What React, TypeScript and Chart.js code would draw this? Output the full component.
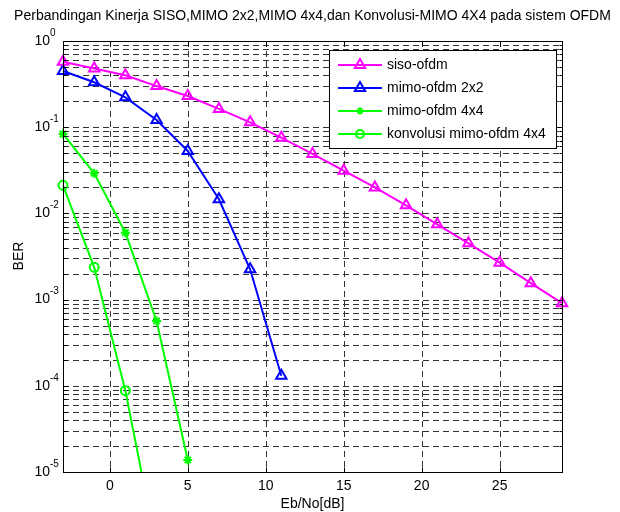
import React, { useEffect, useRef } from 'react';
import { Chart, registerables } from 'chart.js';

Chart.register(...registerables);

const titleText = 'Perbandingan Kinerja SISO,MIMO 2x2,MIMO 4x4,dan Konvolusi-MIMO 4X4 pada sistem OFDM';
const xTitle = 'Eb/No[dB]';
const yTitle = 'BER';

const sisoX = [-3, -1, 1, 3, 5, 7, 9, 11, 13, 15, 17, 19, 21, 23, 25, 27, 29];
const sisoBER = [0.575, 0.48, 0.4, 0.3, 0.23, 0.163, 0.114, 0.0756, 0.0489, 0.0313, 0.02, 0.0124, 0.00746, 0.0045, 0.00268, 0.00155, 0.00091];
const mimo2X = [-3, -1, 1, 3, 5, 7, 9, 11];
const mimo2BER = [0.449, 0.332, 0.222, 0.121, 0.053, 0.0146, 0.00225, 0.000131];
const mimo4X = [-3, -1, 1, 3, 5];
const mimo4BER = [0.0834, 0.0292, 0.00597, 0.000565, 0.0000138];
const konvX = [-3, -1, 1, 3];
const konvBER = [0.0212, 0.00237, 0.0000878, 0.0000013];

const xTicks = [0, 5, 10, 15, 20, 25];
const yDecades = [0, -1, -2, -3, -4, -5];
const legendLabels = ['siso-ofdm', 'mimo-ofdm 2x2', 'mimo-ofdm 4x4', 'konvolusi mimo-ofdm 4x4'];
const seriesColors = ['#ff00ff', '#0000ff', '#00ff00', '#00ff00'];
const seriesMarkers = ['triangle', 'triangle', 'star', 'circle'];

const FONT = '"Liberation Sans", Arial, Helvetica, sans-serif';

function drawMarker(ctx: CanvasRenderingContext2D, style: string, x: number, y: number, r: number) {
  ctx.beginPath();
  if (style === 'triangle') {
    let rad = 0;
    ctx.moveTo(x + Math.sin(rad) * r, y - Math.cos(rad) * r);
    rad += (2 * Math.PI) / 3;
    ctx.lineTo(x + Math.sin(rad) * r, y - Math.cos(rad) * r);
    rad += (2 * Math.PI) / 3;
    ctx.lineTo(x + Math.sin(rad) * r, y - Math.cos(rad) * r);
    ctx.closePath();
  } else if (style === 'circle') {
    ctx.arc(x, y, r, 0, Math.PI * 2);
  } else {
    for (let i = 0; i < 4; i++) {
      const a = (i * Math.PI) / 4;
      ctx.moveTo(x - Math.cos(a) * r, y - Math.sin(a) * r);
      ctx.lineTo(x + Math.cos(a) * r, y + Math.sin(a) * r);
    }
  }
  ctx.stroke();
}

const matlabPlugin = {
  id: 'matlabFrame',
  beforeDatasetsDraw(chart: any) {
    const { ctx, chartArea: a, scales } = chart;
    const xs = scales.x;
    const ys = scales.y;
    ctx.save();
    ctx.strokeStyle = '#333';
    ctx.lineWidth = 1;
    ctx.setLineDash([6, 4]);
    xTicks.forEach((v) => {
      const px = Math.round(xs.getPixelForValue(v)) + 0.5;
      ctx.beginPath();
      ctx.moveTo(px, a.top);
      ctx.lineTo(px, a.bottom);
      ctx.stroke();
    });
    for (let d = -5; d <= 0; d++) {
      for (let m = 1; m <= 9; m++) {
        const v = m * Math.pow(10, d);
        if (v > 1.0001) break;
        const py = Math.round(ys.getPixelForValue(v)) + 0.5;
        ctx.beginPath();
        ctx.moveTo(a.left, py);
        ctx.lineTo(a.right, py);
        ctx.stroke();
      }
    }
    ctx.restore();
  },
  afterDraw(chart: any) {
    const { ctx, chartArea: a, scales } = chart;
    const xs = scales.x;
    const ys = scales.y;
    ctx.save();
    ctx.setLineDash([]);
    ctx.strokeStyle = '#000';
    ctx.lineWidth = 1;
    const L = Math.round(a.left) + 0.5;
    const R = Math.round(a.right) + 0.5;
    const T = Math.round(a.top) + 0.5;
    const B = Math.round(a.bottom) + 0.5;
    ctx.strokeRect(L, T, R - L, B - T);
    xTicks.forEach((v) => {
      const px = Math.round(xs.getPixelForValue(v)) + 0.5;
      ctx.beginPath();
      ctx.moveTo(px, B);
      ctx.lineTo(px, B - 5);
      ctx.moveTo(px, T);
      ctx.lineTo(px, T + 5);
      ctx.stroke();
    });
    for (let d = -5; d <= 0; d++) {
      for (let m = 1; m <= 9; m++) {
        const v = m * Math.pow(10, d);
        if (v > 1.0001) break;
        const py = Math.round(ys.getPixelForValue(v)) + 0.5;
        const len = m === 1 ? 5 : 3;
        ctx.beginPath();
        ctx.moveTo(L, py);
        ctx.lineTo(L + len, py);
        ctx.moveTo(R, py);
        ctx.lineTo(R - len, py);
        ctx.stroke();
      }
    }
    ctx.fillStyle = '#000';
    ctx.font = `14px ${FONT}`;
    ctx.textAlign = 'center';
    ctx.textBaseline = 'middle';
    xTicks.forEach((v) => {
      ctx.fillText(String(v), xs.getPixelForValue(v), 486);
    });
    yDecades.forEach((d) => {
      const py = ys.getPixelForValue(Math.pow(10, d));
      ctx.font = `14px ${FONT}`;
      ctx.textAlign = 'right';
      ctx.textBaseline = 'middle';
      ctx.fillText('10', 50, py);
      ctx.font = `10px ${FONT}`;
      ctx.textAlign = 'left';
      ctx.fillText(String(d), 50, py - 8);
    });
    ctx.font = `14px ${FONT}`;
    ctx.textAlign = 'center';
    ctx.textBaseline = 'middle';
    ctx.fillText(xTitle, (a.left + a.right) / 2, 504);
    ctx.fillText(titleText, (a.left + a.right) / 2, 16);
    ctx.save();
    ctx.translate(19, 256);
    ctx.rotate(-Math.PI / 2);
    ctx.fillText(yTitle, 0, 0);
    ctx.restore();
    // legend
    ctx.fillStyle = '#fff';
    ctx.fillRect(329.5, 50.5, 227, 98);
    ctx.strokeStyle = '#000';
    ctx.lineWidth = 1;
    ctx.strokeRect(329.5, 50.5, 227, 98);
    const rows = [65, 88, 111, 134];
    legendLabels.forEach((lab, i) => {
      const ry = rows[i];
      ctx.strokeStyle = seriesColors[i];
      ctx.lineWidth = 2;
      ctx.beginPath();
      ctx.moveTo(338, ry);
      ctx.lineTo(382, ry);
      ctx.stroke();
      const mk = seriesMarkers[i];
      drawMarker(ctx, mk, 360, ry, mk === 'triangle' ? 6 : mk === 'circle' ? 4 : 3.5);
      ctx.fillStyle = '#000';
      ctx.font = `14px ${FONT}`;
      ctx.textAlign = 'left';
      ctx.textBaseline = 'middle';
      ctx.fillText(lab, 387, ry);
    });
    ctx.restore();
  },
};

function pts(xsArr: number[], ysArr: number[]) {
  return xsArr.map((x, i) => ({ x, y: ysArr[i] }));
}

export default function App() {
  const ref = useRef<HTMLCanvasElement | null>(null);
  useEffect(() => {
    if (!ref.current) return;
    const mk = (label: string, data: any[], i: number, radius: number, clip: any) => ({
      label,
      data,
      borderColor: seriesColors[i],
      backgroundColor: 'transparent',
      borderWidth: 2,
      pointStyle: seriesMarkers[i],
      pointRadius: radius,
      pointBorderWidth: 2,
      pointBorderColor: seriesColors[i],
      pointBackgroundColor: 'transparent',
      tension: 0,
      fill: false,
      clip,
    });
    const chart = new Chart(ref.current, {
      type: 'line',
      data: {
        datasets: [
          mk(legendLabels[0], pts(sisoX, sisoBER), 0, 6, false),
          mk(legendLabels[1], pts(mimo2X, mimo2BER), 1, 6, false),
          mk(legendLabels[2], pts(mimo4X, mimo4BER), 2, 4.5, false),
          mk(legendLabels[3], pts(konvX, konvBER), 3, 4.5, { left: 20, top: 20, right: 20, bottom: 0 }),
        ] as any,
      },
      options: {
        animation: false,
        responsive: false,
        events: [],
        layout: { padding: { left: 63, top: 41, right: 58, bottom: 40 } },
        plugins: { legend: { display: false }, title: { display: false }, tooltip: { enabled: false } },
        scales: {
          x: { type: 'linear', min: -3, max: 29, display: false },
          y: { type: 'logarithmic', min: 0.00001, max: 1, display: false },
        },
      },
      plugins: [matlabPlugin],
    });
    return () => chart.destroy();
  }, []);
  return (
    <div style={{ position: 'fixed', left: 0, top: 0, width: 620, height: 512, background: '#fff' }}>
      <canvas ref={ref} width={620} height={512} style={{ width: 620, height: 512, display: 'block' }} />
    </div>
  );
}
